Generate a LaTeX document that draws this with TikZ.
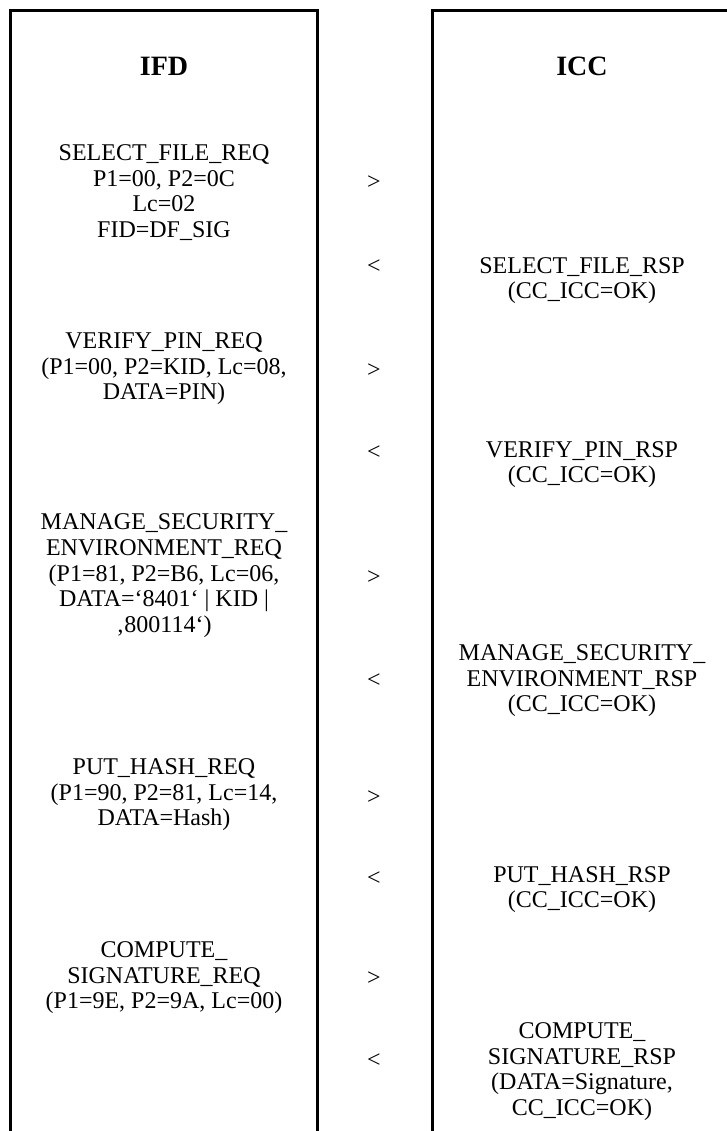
\documentclass[tikz,border=0pt]{standalone}
\usepackage{fontspec}
\setmainfont{Liberation Serif}
\tikzset{
  frame/.style={line width=3pt, line cap=rect},
  msg/.style={align=center, font=\fontsize{24}{25.8}\selectfont, inner sep=0pt,
    execute at begin node=\strut, execute at end node=\strut},
  dirmark/.style={font=\fontsize{24}{25.8}\selectfont, inner sep=0pt},
  heading/.style={font=\fontsize{28}{30}\selectfont\bfseries, inner sep=0pt}
}
\begin{document}
\begin{tikzpicture}[x=1pt,y=-1pt]
\useasboundingbox (0,0) rectangle (727,1131);
\clip (0,0) rectangle (727,1131);
% the two lanes, open at the bottom
\draw[frame] (10,1145) -- (10,10.5) -- (317,10.5) -- (317,1145);
\draw[frame] (432,1145) -- (432,10.5) -- (745,10.5) -- (745,1145);
% lane headings
\node[heading] (ifd) at (164,66) {IFD};
\node[heading] (icc) at (582,66) {ICC};
% SELECT FILE
\node[msg] (selreq) at (164,195) {SELECT\_FILE\_REQ\\P1=00, P2=0C\\Lc=02\\FID=DF\_SIG};
\node[dirmark] (selout) at (374,183) {>};
\node[dirmark] (selin) at (374,267) {<};
\node[msg] (selrsp) at (582,282) {SELECT\_FILE\_RSP\\(CC\_ICC=OK)};
% VERIFY PIN
\node[msg] (pinreq) at (164,370) {VERIFY\_PIN\_REQ\\(P1=00, P2=KID, Lc=08,\\DATA=PIN)};
\node[dirmark] (pinout) at (374,371) {>};
\node[dirmark] (pinin) at (374,453) {<};
\node[msg] (pinrsp) at (582,466) {VERIFY\_PIN\_RSP\\(CC\_ICC=OK)};
% MANAGE SECURITY ENVIRONMENT
\node[msg] (msereq) at (164,577) {MANAGE\_SECURITY\_\\ENVIRONMENT\_REQ\\(P1=81, P2=B6, Lc=06,\\DATA=‘8401‘ | KID |\\‚800114‘)};
\node[dirmark] (mseout) at (374,578) {>};
\node[dirmark] (msein) at (374,681) {<};
\node[msg] (msersp) at (582,682) {MANAGE\_SECURITY\_\\ENVIRONMENT\_RSP\\(CC\_ICC=OK)};
% PUT HASH
\node[msg] (hashreq) at (164,796) {PUT\_HASH\_REQ\\(P1=90, P2=81, Lc=14,\\DATA=Hash)};
\node[dirmark] (hashout) at (374,798) {>};
\node[dirmark] (hashin) at (374,879) {<};
\node[msg] (hashrsp) at (582,891) {PUT\_HASH\_RSP\\(CC\_ICC=OK)};
% COMPUTE SIGNATURE
\node[msg] (sigreq) at (164,979) {COMPUTE\_\\SIGNATURE\_REQ\\(P1=9E, P2=9A, Lc=00)};
\node[dirmark] (sigout) at (374,979) {>};
\node[dirmark] (sigin) at (374,1061) {<};
\node[msg] (sigrsp) at (582,1073) {COMPUTE\_\\SIGNATURE\_RSP\\(DATA=Signature,\\CC\_ICC=OK)};
\end{tikzpicture}
\end{document}
